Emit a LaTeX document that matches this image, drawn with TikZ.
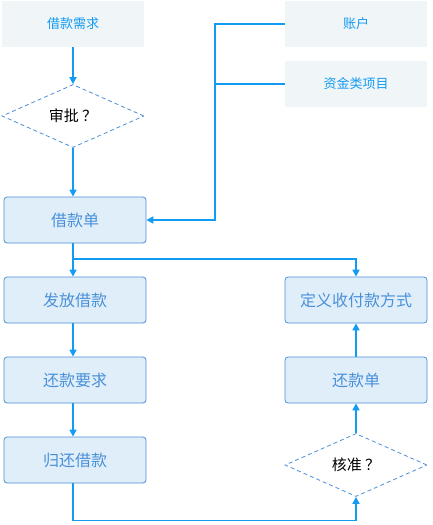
\documentclass[tikz,border=0pt]{standalone}
\usepackage{fontspec}
\setmainfont{Noto Sans CJK SC}
\usetikzlibrary{shapes.geometric,arrows.meta}
\definecolor{linkblue}{HTML}{129BF2}
\definecolor{boxfill}{HTML}{E0EEFA}
\definecolor{boxline}{HTML}{4A90D9}
\definecolor{srcfill}{HTML}{F0F5F8}
\tikzset{
 flow/.style={draw=linkblue,line width=1.6pt,-{Triangle[width=7pt,length=7pt]}},
 link/.style={draw=linkblue,line width=1.6pt}
}
\newcommand{\srcbox}[3]{%
 \node ({#1}) [fill=srcfill,text=linkblue,font=\fontsize{13}{15}\selectfont,
  minimum width=142pt,minimum height=46pt,inner sep=0pt] at ({#2}) {#3};%
}
\newcommand{\flowbox}[3]{%
 \node ({#1}) [draw=boxline,line width=0.8pt,fill=boxfill,rounded corners=3pt,
  text=boxline,font=\fontsize{16}{18}\selectfont,
  minimum width=142pt,minimum height=46pt,inner sep=0pt] at ({#2}) {#3};%
}
\newcommand{\decisionnode}[3]{%
 \node ({#1}) [diamond,draw=boxline,line width=0.8pt,dash pattern=on 4pt off 3pt,
  fill=white,font=\fontsize{15}{17}\selectfont,
  minimum width=142pt,minimum height=63pt,inner sep=0pt] at ({#2}) {#3};%
}

\begin{document}
\begin{tikzpicture}[x=1pt,y=-1pt]
   \useasboundingbox (0,0) rectangle (432,525);
   \srcbox{need}{73,24}{借款需求};
   \srcbox{acct}{356,24}{账户};
   \srcbox{fund}{356,84}{资金类项目};
   \decisionnode{approve}{73,116}{审批 ？};
   \flowbox{loan}{75,220}{借款单};
   \flowbox{issue}{75,300}{发放借款};
   \flowbox{req}{75,380}{还款要求};
   \flowbox{repay}{75,460}{归还借款};
   \flowbox{define}{356,300}{定义收付款方式};
   \flowbox{repform}{356,380}{还款单};
   \decisionnode{verify}{356,465}{核准 ？};
   \coordinate (bus) at (215,0);
   \coordinate (split) at (0,259);
   \draw[flow] (need.south -| approve.north) -- (approve.north);
   \draw[flow] (approve.south) -- (approve.south |- loan.north);
   \draw[flow] (acct.west) -- (acct.west -| bus) |- (loan.east);
   \draw[link] (fund.west) -- (fund.west -| bus);
   \draw[flow] (approve.south |- loan.south) -- (approve.south |- issue.north);
   \draw[flow] (approve.south |- split) -| (define.north);
   \draw[flow] (approve.south |- issue.south) -- (approve.south |- req.north);
   \draw[flow] (approve.south |- req.south) -- (approve.south |- repay.north);
   \draw[flow] (approve.south |- repay.south) -- ++(0,37) -| (verify.south);
   \draw[flow] (verify.north) -- (repform.south);
   \draw[flow] (repform.north) -- (define.south);
  \end{tikzpicture}
\end{document}
